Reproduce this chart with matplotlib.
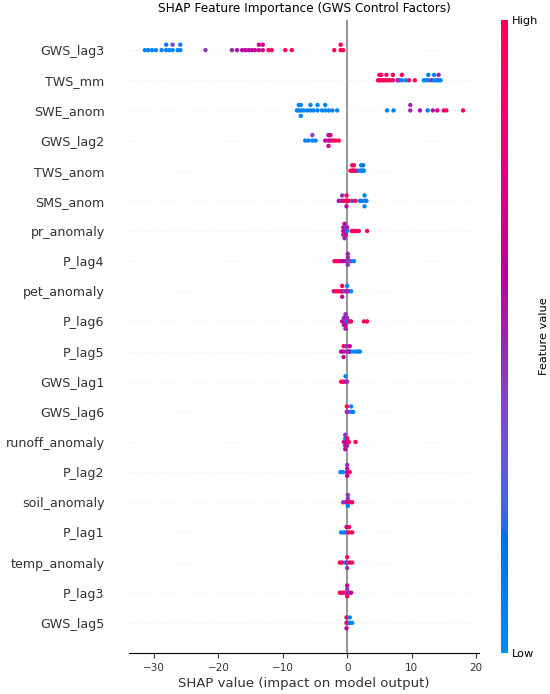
import numpy as np
import matplotlib
matplotlib.use("Agg")
import matplotlib.pyplot as plt
from matplotlib.colors import LinearSegmentedColormap, Normalize
from matplotlib.cm import ScalarMappable

# --- features, top to bottom ---
features = ["GWS_lag3", "TWS_mm", "SWE_anom", "GWS_lag2", "TWS_anom", "SMS_anom",
            "pr_anomaly", "P_lag4", "pet_anomaly", "P_lag6", "P_lag5", "GWS_lag1",
            "GWS_lag6", "runoff_anomaly", "P_lag2", "soil_anomaly", "P_lag1",
            "temp_anomaly", "P_lag3", "GWS_lag5"]

# (shap value, normalised feature value)
GWS_lag3 = [(-31.4, .05), (-30.9, .05), (-30.3, .05), (-29.7, .05), (-28.8, .05),
            (-28.1, .05), (-28.1, .1), (-27.6, .05), (-27.1, .05), (-27.1, .4),
            (-26.3, .05), (-25.9, .05), (-25.9, .1), (-22.0, .45), (-17.9, .5),
            (-17.1, .55), (-16.3, .58), (-15.8, .6), (-15.3, .62), (-14.8, .6),
            (-14.3, .65), (-13.7, .65), (-13.7, .68), (-13.1, .7), (-13.1, .7),
            (-12.2, .9), (-11.7, .92), (-9.6, .95), (-8.6, .95), (-2.0, .97),
            (-1.0, 1.0), (-1.0, 1.0), (-0.6, .98)]
TWS_mm = [(4.8, .95), (5.0, .95), (5.0, .9), (5.3, .95), (5.3, .95), (5.6, .9),
          (5.8, .95), (6.1, .95), (6.1, .9), (6.4, .95), (6.7, .9), (7.1, .95),
          (7.1, .95), (7.8, .5), (8.1, .45), (8.5, .05), (8.5, .9), (9.1, .05),
          (9.6, .95), (10.5, .95), (11.9, .05), (12.2, .05), (12.6, .05), (12.6, .1),
          (13.1, .5), (13.5, .05), (13.5, .05), (13.9, .05), (14.2, .1), (14.2, .5),
          (14.5, .05)]
SWE_anom = [(-7.8, .05), (-7.5, .05), (-7.5, .05), (-7.2, .05), (-7.2, .05), (-7.2, .05),
            (-6.75, .05), (-6.2, .05), (-5.7, .05), (-5.7, .05), (-5.2, .05), (-4.6, .05),
            (-4.6, .05), (-3.9, .05), (-3.4, .05), (-3.4, .05), (-2.86, .05), (-2.3, .05),
            (-1.55, .05), (6.2, .08), (7.2, .1), (9.8, .5), (9.8, .48), (11.3, .55),
            (12.5, .12), (13.3, .55), (14.0, .7), (15.0, .95), (15.4, .95), (18.0, 1.0)]
GWS_lag2 = [(-6.5, .05), (-6.0, .05), (-5.4, .05), (-5.4, .4), (-4.9, .05), (-3.4, .6),
            (-2.9, .65), (-2.9, .65), (-2.9, .7), (-2.6, .7), (-2.6, .65), (-2.2, .9),
            (-1.8, .95), (-1.3, .95)]
TWS_anom = [(0.52, .95), (0.78, .95), (0.78, .9), (0.9, .95), (1.04, .9), (1.04, .95),
            (1.24, .9), (1.55, .5), (1.97, .05), (2.18, .05), (2.18, .05), (2.33, .05),
            (2.49, .05), (2.49, .1), (2.6, .05)]
SMS_anom = [(-1.3, .6), (-0.93, .45), (-0.78, .5), (-0.78, .45), (-0.52, .95), (-0.26, .95),
            (-0.1, .95), (-0.1, .95), (-0.1, .65), (0.26, .95), (0.78, .45), (1.3, .95),
            (1.97, .05), (2.3, .1), (2.7, .05), (2.7, .05), (2.7, .05), (3.0, .1)]
pr_anomaly = [(-0.6, .6), (-0.6, .5), (-0.6, .65), (-0.4, .5), (-0.4, .65), (-0.4, .45),
              (-0.4, .6), (-0.4, .5), (-0.2, .65), (-0.2, .45), (-0.2, .7), (0.0, .05),
              (0.0, .5), (0.7, .95), (0.9, .95), (1.1, .9), (1.4, .95), (1.8, .95),
              (3.1, .95)]
P_lag4 = [(-1.97, .95), (-1.66, .95), (-1.3, .9), (-0.93, .65), (-0.52, .6), (-0.1, .5),
          (0.1, .45), (0.1, .5), (0.1, .45), (0.1, .5), (0.26, .4), (0.62, .35),
          (1.04, .1)]
pet_anomaly = [(-2.07, .65), (-1.66, .95), (-1.3, .95), (-0.93, .95), (-0.78, .9),
               (-0.78, .95), (-0.78, .65), (-0.52, .45), (-0.1, .5), (0.0, .5), (0.0, .05),
               (0.26, .45), (0.62, .05)]
P_lag6 = [(-0.78, .65), (-0.5, .6), (-0.5, .45), (-0.5, .5), (-0.26, .45), (-0.26, .5),
          (-0.26, .65), (-0.26, .45), (-0.26, .5), (0.0, .1), (0.0, .45), (0.26, .05),
          (0.4, .95), (0.6, .95), (2.6, .95), (3.1, .95)]
P_lag5 = [(-0.93, .6), (-0.55, .65), (-0.55, .95), (-0.55, .65), (-0.1, .45), (-0.1, .45),
          (0.26, .45), (0.4, .65), (0.4, .65), (0.78, .05), (1.3, .05), (1.66, .05),
          (1.97, .05)]
GWS_lag1 = [(-0.93, .95), (-0.62, .95), (-0.26, .65), (-0.26, .05), (0.0, .45)]
GWS_lag6 = [(-0.05, .65), (-0.05, .95), (0.1, .45), (0.62, .05), (0.62, .05), (0.93, .05)]
runoff_anomaly = [(-0.5, .65), (-0.3, .65), (-0.3, .05), (-0.3, .6), (-0.3, .45),
                  (-0.3, .65), (0.0, .6), (0.0, .95), (0.0, .5), (0.26, .95), (1.3, .95)]
P_lag2 = [(-1.04, .05), (-0.62, .05), (0.0, .65), (0.0, .65), (0.0, .65), (0.0, .45),
          (0.4, .95)]
soil_anomaly = [(-0.62, .45), (-0.26, .45), (0.1, .65), (0.1, .45), (0.1, .05), (0.1, .45),
                (0.4, .95), (0.78, .95)]
P_lag1 = [(-0.93, .05), (-0.52, .05), (-0.1, .45), (-0.1, .65), (0.3, .95), (0.3, .95),
          (0.78, .95)]
temp_anomaly = [(-1.14, .95), (-0.78, .95), (-0.26, .05), (0.0, .45), (0.0, .95),
                (0.0, .45), (0.4, .95), (0.78, .95)]
P_lag3 = [(-1.14, .95), (-0.78, .95), (-0.41, .95), (0.0, .45), (0.0, .45), (0.0, .95),
          (0.0, .65), (0.4, .45), (0.62, .65)]
GWS_lag5 = [(-0.1, .65), (-0.1, .95), (-0.1, .65), (0.1, .95), (0.4, .05), (0.4, .05),
            (0.78, .05)]

rows = [GWS_lag3, TWS_mm, SWE_anom, GWS_lag2, TWS_anom, SMS_anom, pr_anomaly, P_lag4,
        pet_anomaly, P_lag6, P_lag5, GWS_lag1, GWS_lag6, runoff_anomaly, P_lag2,
        soil_anomaly, P_lag1, temp_anomaly, P_lag3, GWS_lag5]


# --- shap style red/blue colormap (interpolated in LCh space) ---
def lab2rgb(L, a, b):
    fy = (L + 16) / 116
    fx = fy + a / 500
    fz = fy - b / 200

    def finv(t):
        return np.where(t > 6 / 29, t ** 3, 3 * (6 / 29) ** 2 * (t - 4 / 29))

    xyz = np.array([0.95047 * finv(fx), finv(fy), 1.08883 * finv(fz)])
    m = np.array([[3.2404542, -1.5371385, -0.4985314],
                  [-0.9692660, 1.8760108, 0.0415560],
                  [0.0556434, -0.2040259, 1.0572252]])
    rgb = m @ xyz
    rgb = np.where(rgb > 0.0031308, 1.055 * np.abs(rgb) ** (1 / 2.4) - 0.055, 12.92 * rgb)
    return np.clip(rgb, 0, 1)


blue_lch = [54., 70., 4.6588]
red_lch = [54., 90., 0.35470565 + 2 * np.pi]
nsteps = 100
l_vals = list(np.linspace(blue_lch[0], 40., nsteps // 2)) + list(np.linspace(40., red_lch[0], nsteps // 2))
c_vals = np.linspace(blue_lch[1], red_lch[1], nsteps)
h_vals = np.linspace(blue_lch[2], red_lch[2], nsteps)
cols = [lab2rgb(l, c * np.cos(h), c * np.sin(h)) for l, c, h in zip(l_vals, c_vals, h_vals)]
red_blue = LinearSegmentedColormap.from_list("red_blue", cols)

axis_color = "#333333"
row_height = 0.4
n = len(features)

fig = plt.figure(figsize=(5.5, 6.94), dpi=100)
ax = fig.add_axes([129 / 550, 41 / 694, 350 / 550, 633 / 694])
ax.axvline(0, color="#999999", zorder=-1)

for i, (name, pts) in enumerate(zip(features, rows)):
    pos = n - 1 - i
    ax.axhline(pos, color="#cccccc", lw=0.5, dashes=(1, 5), zorder=-1)
    shaps = np.array([p[0] for p in pts])
    vals = np.array([p[1] for p in pts])
    # beeswarm stacking, as shap does it
    nbins = 100
    quant = np.round(nbins * (shaps - shaps.min()) / (shaps.max() - shaps.min() + 1e-8))
    inds = np.argsort(quant, kind="stable")
    layer, last_bin = 0, -1
    ys = np.zeros(len(shaps))
    for ind in inds:
        if quant[ind] != last_bin:
            layer = 0
        ys[ind] = np.ceil(layer / 2) * ((layer % 2) * 2 - 1)
        layer += 1
        last_bin = quant[ind]
    ys *= 0.9 * (row_height / np.max(ys + 1))
    ax.scatter(shaps, pos + ys, c=red_blue(vals), s=10, linewidth=0, alpha=1,
               zorder=3, rasterized=True)

ax.set_ylim(-1, n)
ax.set_yticks(range(n))
ax.set_yticklabels(features[::-1], fontsize=9.1)
ax.xaxis.set_ticks_position("bottom")
ax.yaxis.set_ticks_position("none")
for s in ["right", "top", "left"]:
    ax.spines[s].set_visible(False)
ax.tick_params(color=axis_color, labelcolor=axis_color)
ax.tick_params("y", length=0, pad=17.5)
ax.tick_params("x", labelsize=7.5)
ax.set_xlabel("SHAP value (impact on model output)", fontsize=9.5, color=axis_color,
              labelpad=3)
ax.set_title("SHAP Feature Importance (GWS Control Factors)", fontsize=8.75)

cax = fig.add_axes([500.5 / 550, 41 / 694, 7 / 550, 633 / 694])
cb = fig.colorbar(ScalarMappable(norm=Normalize(0, 1), cmap=red_blue), cax=cax, ticks=[0, 1])
cb.set_ticklabels(["Low", "High"])
cb.set_label("Feature value", size=8.2, labelpad=0)
cb.ax.tick_params(labelsize=8.2, length=0)
cb.outline.set_visible(False)

fig.savefig("out.png", dpi=100)
